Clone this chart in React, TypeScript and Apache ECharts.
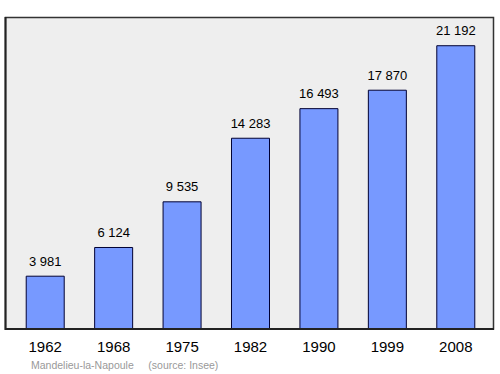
import React, { useEffect, useRef } from "react";
import * as echarts from "echarts";

const years = ["1962", "1968", "1975", "1982", "1990", "1999", "2008"];
const population = [3981, 6124, 9535, 14283, 16493, 17870, 21192];
const footer = "Mandelieu-la-Napoule     (source: Insee)";

const fmt = (v: number) => String(v).replace(/\B(?=(\d{3})+(?!\d))/g, " ");
const FONT = "Liberation Sans, Arial, sans-serif";

export default function App() {
  const ref = useRef<HTMLDivElement>(null);
  useEffect(() => {
    const chart = echarts.init(ref.current!, null, { renderer: "svg" });
    chart.setOption({
      animation: false,
      backgroundColor: "#ffffff",
      textStyle: { fontFamily: FONT },
      grid: { left: 11, right: 10, top: 17, bottom: 45, show: false },
      graphic: [
        {
          type: "rect",
          z: 0,
          silent: true,
          shape: { x: 5.5, y: 17.5, width: 488, height: 311.5 },
          style: { fill: "#eeeeee", stroke: "#333333", lineWidth: 1.5 },
        },
        {
          type: "polyline",
          z: 100,
          silent: true,
          shape: { points: [[5.5, 17], [5.5, 329], [494, 329]] },
          style: { stroke: "#222222", lineWidth: 2, fill: null },
        },
        {
          type: "text",
          left: 31,
          top: 359,
          style: { text: footer, fill: "#999999", fontSize: 10.5, fontFamily: FONT },
        },
      ],
      xAxis: {
        type: "category",
        data: years,
        axisLine: { show: false },
        axisTick: { show: false },
        axisLabel: { color: "#000000", fontSize: 15, margin: 10 },
      },
      yAxis: {
        type: "value",
        min: 0,
        max: 23300,
        axisLine: { show: false },
        axisTick: { show: false },
        axisLabel: { show: false },
        splitLine: { show: false },
      },
      series: [
        {
          type: "bar",
          data: population,
          barWidth: "57%",
          z: 5,
          itemStyle: { color: "#7799ff", borderColor: "#000033", borderWidth: 1 },
          label: {
            show: true,
            position: "top",
            distance: 8,
            color: "#000000",
            fontSize: 13,
            formatter: (p: any) => fmt(p.value),
          },
        },
      ],
    });
    return () => chart.dispose();
  }, []);
  return <div ref={ref} style={{ position: "absolute", left: 0, top: 0, width: 500, height: 374 }} />;
}
